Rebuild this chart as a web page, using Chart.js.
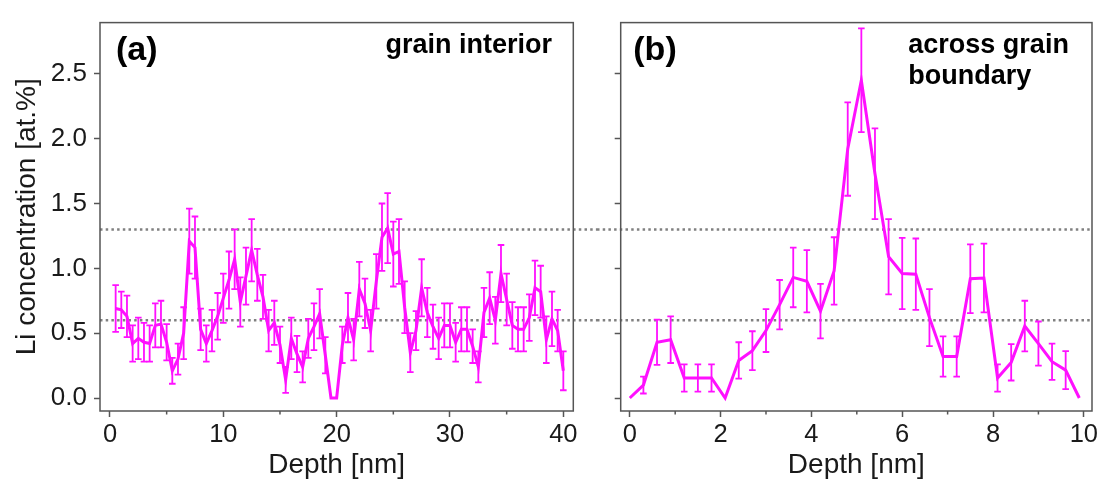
<!DOCTYPE html>
<html>
<head>
<meta charset="utf-8">
<script src="https://cdn.jsdelivr.net/npm/chart.js@4.4.1/dist/chart.umd.min.js"></script>
<style>
  body { margin: 0; background: #fff; }
  #wrap { position: relative; width: 1103px; height: 482px; }
  canvas { position: absolute; top: 0; }
  #panelA { left: 0; }
  #panelB { left: 597px; }
</style>
</head>
<body>
<div id="wrap">
  <canvas id="panelA" width="597" height="482"></canvas>
  <canvas id="panelB" width="506" height="482"></canvas>
</div>
<script>
// (a) grain interior : profondeur en nm
const depthA = [0.5, 1.0, 1.5, 2.0, 2.5, 3.0, 3.5, 4.0, 4.5, 5.0,
  5.5, 6.0, 6.5, 7.0, 7.5, 8.0, 8.5, 9.0, 9.5, 10.0,
  10.5, 11.0, 11.5, 12.0, 12.5, 13.0, 13.5, 14.0, 14.5, 15.0,
  15.5, 16.0, 16.5, 17.0, 17.5, 18.0, 18.5, 19.0, 19.5, 20.0,
  20.5, 21.0, 21.5, 22.0, 22.5, 23.0, 23.5, 24.0, 24.5, 25.0,
  25.5, 26.0, 26.5, 27.0, 27.5, 28.0, 28.5, 29.0, 29.5, 30.0,
  30.5, 31.0, 31.5, 32.0, 32.5, 33.0, 33.5, 34.0, 34.5, 35.0,
  35.5, 36.0, 36.5, 37.0, 37.5, 38.0, 38.5, 39.0, 39.5, 40.0];
// concentration Li (at.%)
const liA = [0.69, 0.68, 0.63, 0.42, 0.46, 0.43, 0.42, 0.56, 0.57, 0.43,
  0.21, 0.30, 0.50, 1.21, 1.16, 0.53, 0.42, 0.52, 0.63, 0.77,
  0.91, 1.07, 0.74, 0.94, 1.14, 0.95, 0.78, 0.52, 0.58, 0.41,
  0.14, 0.46, 0.34, 0.24, 0.46, 0.55, 0.65, 0.33, 0, 0,
  0.41, 0.62, 0.45, 0.84, 0.73, 0.52, 0.90, 1.24, 1.31, 1.11,
  1.13, 0.70, 0.35, 0.52, 0.85, 0.66, 0.55, 0.46, 0.56, 0.56,
  0.43, 0.53, 0.53, 0.40, 0.24, 0.66, 0.77, 0.60, 0.96, 0.76,
  0.56, 0.53, 0.53, 0.62, 0.85, 0.82, 0.45, 0.61, 0.52, 0.21];
// barres d'erreur (+/-)
const errA = [0.18, 0.14, 0.16, 0.14, 0.16, 0.15, 0.14, 0.17, 0.18, 0.14,
  0.10, 0.12, 0.20, 0.25, 0.24, 0.16, 0.14, 0.16, 0.18, 0.19,
  0.22, 0.23, 0.19, 0.22, 0.24, 0.20, 0.17, 0.16, 0.17, 0.14,
  0.10, 0.16, 0.14, 0.12, 0.15, 0.18, 0.19, 0.14, 0, 0,
  0.14, 0.19, 0.16, 0.21, 0.19, 0.16, 0.21, 0.26, 0.27, 0.25,
  0.25, 0.20, 0.15, 0.15, 0.22, 0.19, 0.17, 0.16, 0.17, 0.17,
  0.15, 0.17, 0.17, 0.13, 0.12, 0.19, 0.20, 0.18, 0.22, 0.20,
  0.18, 0.17, 0.17, 0.18, 0.21, 0.20, 0.18, 0.21, 0.16, 0.15];

// (b) across grain boundary
const depthB = [0, 0.3, 0.6, 0.9, 1.2, 1.5, 1.8, 2.1, 2.4, 2.7, 3.0, 3.3,
  3.6, 3.9, 4.2, 4.5, 4.8, 5.1, 5.4, 5.7, 6.0, 6.3, 6.6, 6.9, 7.2, 7.5,
  7.8, 8.1, 8.4, 8.7, 9.0, 9.3, 9.6, 9.9];
const liB = [0, 0.10, 0.43, 0.45, 0.155, 0.155, 0.155, 0, 0.29, 0.365, 0.52, 0.72,
  0.93, 0.90, 0.67, 0.98, 1.92, 2.45, 1.73, 1.09, 0.96, 0.955, 0.62, 0.32, 0.32, 0.92,
  0.925, 0.155, 0.275, 0.555, 0.42, 0.28, 0.215, 0];
const errB = [0, 0.065, 0.175, 0.18, 0.105, 0.105, 0.105, 0, 0.14, 0.15, 0.165, 0.19,
  0.23, 0.24, 0.21, 0.26, 0.36, 0.40, 0.35, 0.29, 0.275, 0.275, 0.22, 0.155, 0.155, 0.265,
  0.265, 0.105, 0.14, 0.195, 0.17, 0.14, 0.147, 0];

// lignes pointillees horizontales
const refLevels = [1.3, 0.6];
// petites graduations de l'axe x
const minorA = [5, 15, 25, 35];
const minorB = [1, 3, 5, 7, 9];

const FONT = "'Liberation Sans', Arial, Helvetica, sans-serif";
const MAGENTA = '#ff10ff';
const AXIS = '#555555';
const TEXT = '#1a1a1a';

// plugin : pointilles, barres d'erreur, cadre, etiquettes du panneau
function makeDecor(cfg) {
  return {
    id: 'decor',
    beforeDatasetsDraw(chart) {
      const { ctx, chartArea, scales } = chart;
      const x = scales.x, y = scales.y;
      ctx.save();
      ctx.strokeStyle = '#808080';
      ctx.lineWidth = 2.5;
      ctx.setLineDash([2.5, 3.2]);
      refLevels.forEach(v => {
        const py = y.getPixelForValue(v);
        ctx.beginPath();
        ctx.moveTo(cfg.lineFromEdge ? 0 : chartArea.left, py);
        ctx.lineTo(cfg.lineToEdge ? chart.width : chartArea.right, py);
        ctx.stroke();
      });
      ctx.restore();

      // barres d'erreur
      ctx.save();
      ctx.strokeStyle = MAGENTA;
      ctx.lineWidth = 1.8;
      cfg.xs.forEach((xv, i) => {
        const e = cfg.errs[i];
        if (!e) return;
        const px = x.getPixelForValue(xv);
        const top = y.getPixelForValue(cfg.ys[i] + e);
        const bot = y.getPixelForValue(cfg.ys[i] - e);
        ctx.beginPath();
        ctx.moveTo(px, top); ctx.lineTo(px, bot);
        ctx.moveTo(px - 3.3, top); ctx.lineTo(px + 3.3, top);
        ctx.moveTo(px - 3.3, bot); ctx.lineTo(px + 3.3, bot);
        ctx.stroke();
      });
      ctx.restore();
    },
    afterDraw(chart) {
      const { ctx, chartArea, scales } = chart;
      ctx.save();
      // cadre
      ctx.strokeStyle = AXIS;
      ctx.lineWidth = 1.5;
      ctx.strokeRect(chartArea.left, chartArea.top, chartArea.right - chartArea.left, chartArea.bottom - chartArea.top);
      // petites graduations
      cfg.minor.forEach(m => {
        const px = scales.x.getPixelForValue(m);
        ctx.beginPath();
        ctx.moveTo(px, chartArea.bottom);
        ctx.lineTo(px, chartArea.bottom + 3.5);
        ctx.stroke();
      });
      // etiquettes
      ctx.fillStyle = '#000';
      ctx.textBaseline = 'alphabetic';
      ctx.textAlign = 'left';
      ctx.font = 'bold 34px ' + FONT;
      ctx.fillText(cfg.tag, cfg.tagX, 59.5);
      ctx.font = 'bold 27px ' + FONT;
      ctx.textAlign = cfg.noteAlign;
      cfg.note.forEach((t, k) => ctx.fillText(t, cfg.noteX, 53.3 + k * 30.7));
      ctx.restore();
    }
  };
}

function makePanel(id, xs, ys, errs, cfg) {
  return new Chart(document.getElementById(id), {
    type: 'line',
    data: {
      datasets: [{
        data: xs.map((xv, i) => ({ x: xv, y: ys[i] })),
        borderColor: MAGENTA,
        borderWidth: 3,
        pointRadius: 0,
        tension: 0,
        fill: false
      }]
    },
    options: {
      responsive: false,
      animation: false,
      layout: { padding: { left: 0, right: cfg.padRight, top: 15, bottom: 0 } },
      plugins: { legend: { display: false }, tooltip: { enabled: false } },
      scales: {
        x: {
          type: 'linear',
          min: cfg.xMin,
          max: cfg.xMax,
          afterFit: s => { s.height = 71; },
          ticks: {
            stepSize: cfg.xStep, includeBounds: false, maxRotation: 0,
            font: { family: FONT, size: 25.5 }, color: TEXT, padding: 3
          },
          grid: { drawOnChartArea: false, tickLength: 6, tickWidth: 1.5, tickColor: AXIS },
          border: { display: false },
          title: {
            display: true, text: 'Depth [nm]', color: TEXT,
            font: { family: FONT, size: 28 }, padding: { top: 0, bottom: 0 }
          }
        },
        y: {
          min: -0.1,
          max: 2.895,
          afterFit: s => { s.width = cfg.yWidth; },
          ticks: {
            stepSize: 0.5, includeBounds: false,
            callback: v => cfg.yLabels ? v.toFixed(1) : '',
            font: { family: FONT, size: 26 }, color: TEXT, padding: 7
          },
          grid: { drawOnChartArea: false, tickLength: 6, tickWidth: 1.5, tickColor: AXIS },
          border: { display: false },
          title: {
            display: cfg.yLabels, text: 'Li concentration [at.%]', color: TEXT,
            font: { family: FONT, size: 28 }, padding: { top: 10, bottom: 0 }
          }
        }
      }
    },
    plugins: [makeDecor(Object.assign({ xs: xs, ys: ys, errs: errs }, cfg))]
  });
}

makePanel('panelA', depthA, liA, errA, {
  xMin: -0.88, xMax: 40.88, xStep: 10, padRight: 23.7, yWidth: 100, yLabels: true,
  minor: minorA, lineFromEdge: false, lineToEdge: true,
  tag: '(a)', tagX: 116, note: ['grain interior'], noteX: 552, noteAlign: 'right'
});

makePanel('panelB', depthB, liB, errB, {
  xMin: -0.2, xMax: 10.18, xStep: 2, padRight: 11, yWidth: 23.7, yLabels: false,
  minor: minorB, lineFromEdge: true, lineToEdge: false,
  tag: '(b)', tagX: 36.3, note: ['across grain', 'boundary'], noteX: 311.3, noteAlign: 'left'
});
</script>
</body>
</html>
